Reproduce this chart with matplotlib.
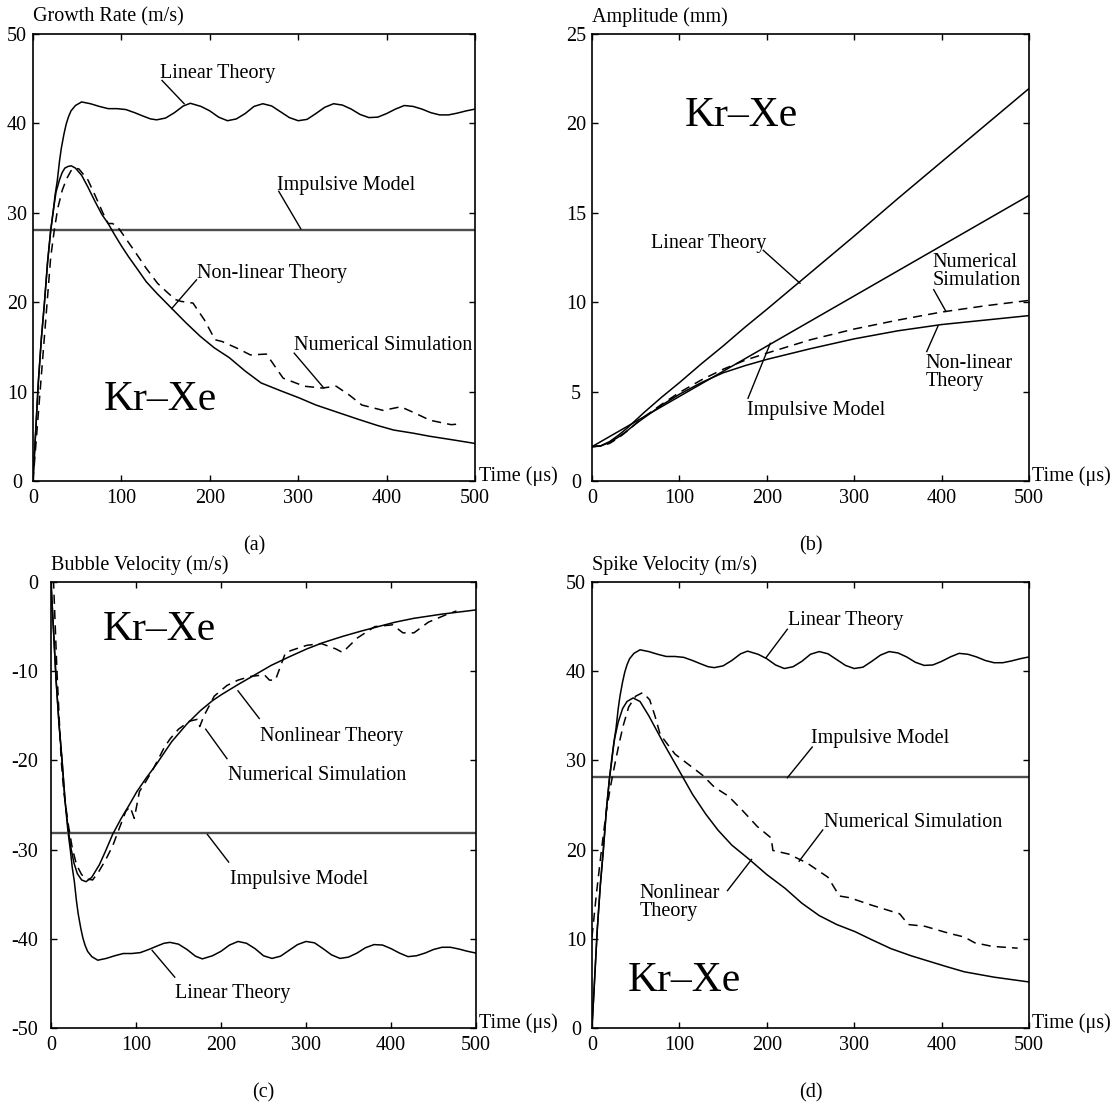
import numpy as np
import matplotlib.pyplot as plt

plt.rcParams['font.family'] = ['Liberation Serif', 'DejaVu Serif']
plt.rcParams['font.size'] = 14.5
plt.rcParams['axes.unicode_minus'] = False

# ---- shared linear theory growth rate (m/s) ----
t_lin = [0, 3, 6, 9.5, 13, 16.5, 20, 22.7, 25, 27.5, 30, 32, 35, 37.5, 40, 43, 48, 55, 65, 75,
         85, 95, 105, 115, 125, 133, 140, 150, 160, 170, 178, 190, 200, 210, 220, 230, 240, 250,
         260, 270, 280, 290, 300, 310, 320, 330, 340, 350, 360, 370, 380, 390, 400, 410, 420,
         430, 440, 450, 460, 470, 480, 490, 500]
v_lin = [0, 5.5, 11, 16, 20, 24.5, 28, 30, 32, 33.6, 35.8, 37.2, 38.8, 39.9, 40.7, 41.4, 42.0,
         42.4, 42.2, 41.9, 41.65, 41.65, 41.55, 41.2, 40.8, 40.5, 40.4, 40.6, 41.2, 41.95, 42.25,
         41.9, 41.4, 40.7, 40.3, 40.5, 41.1, 41.9, 42.2, 41.95, 41.3, 40.65, 40.3, 40.45, 41.1,
         41.8, 42.2, 42.05, 41.6, 41.0, 40.65, 40.7, 41.1, 41.6, 42.0, 41.9, 41.6, 41.2, 40.95,
         40.95, 41.15, 41.4, 41.6]
impulsive_rate = 28.1

# ---- (a) growth rate ----
t_nl_a = [0, 3, 6, 9.5, 13, 16.5, 20, 22.6, 26, 30, 33, 36, 40, 43.4, 48, 55, 62, 70, 78, 85,
          92, 100, 108, 118.8, 128, 140, 157, 173, 189, 205, 222, 240, 258, 280, 301, 320, 341,
          368, 390, 408, 430, 449, 475, 500]
v_nl_a = [0, 5.5, 11, 16, 20, 24.5, 28, 30, 32.3, 33.7, 34.5, 35.0, 35.2, 35.25, 35.0, 34.2,
          32.9, 31.3, 29.8, 28.8, 27.6, 26.3, 25.1, 23.6, 22.3, 21.0, 19.3, 17.7, 16.2, 14.9,
          13.8, 12.3, 10.97, 10.1, 9.3, 8.5, 7.8, 6.9, 6.2, 5.7, 5.35, 5.0, 4.6, 4.2]
t_num_a = [0, 4, 8, 12, 16, 20, 24, 28, 33, 38, 43, 47, 52, 62, 70, 79, 85, 90, 96, 103.7, 115,
           128, 141, 153, 161, 167, 181, 194, 206, 214, 232, 246, 264, 283, 307, 327, 343, 358,
           372, 396, 416, 432, 449, 473, 485]
v_num_a = [0, 5, 10, 15, 20, 25, 28, 30.5, 32.5, 33.8, 34.7, 35.0, 34.9, 33.7, 32.0, 30.0,
           28.8, 28.8, 28.4, 27.3, 25.7, 23.8, 22.1, 21.0, 20.3, 20.1, 19.9, 18.0, 15.8, 15.6,
           14.8, 14.1, 14.2, 11.5, 10.6, 10.4, 10.6, 9.6, 8.5, 7.9, 8.3, 7.6, 6.8, 6.3, 6.4]

# ---- (b) amplitude (mm) ----
t_b = [0, 10, 20, 30, 40, 50, 60, 80, 100, 125, 150, 175, 200, 250, 300, 350, 400, 450, 500]
amp_lin = [1.92, 1.97, 2.2, 2.55, 2.95, 3.4, 3.85, 4.7, 5.5, 6.55, 7.55, 8.6, 9.6, 11.65, 13.7,
           15.8, 17.85, 19.9, 21.95]
amp_nl = [1.92, 1.96, 2.15, 2.45, 2.8, 3.2, 3.55, 4.25, 4.85, 5.5, 6.05, 6.45, 6.8, 7.4, 7.95,
          8.4, 8.75, 9.0, 9.25]
amp_num = [1.92, 1.95, 2.1, 2.4, 2.78, 3.2, 3.6, 4.3, 4.95, 5.65, 6.25, 6.75, 7.15, 7.9, 8.5,
           9.0, 9.45, 9.8, 10.1]
t_imp_b = [0, 100, 200, 300, 400, 500]
amp_imp = [1.92, 4.73, 7.54, 10.35, 13.16, 15.97]

# ---- (c) bubble velocity (m/s) ----
t_nl_c = [0, 3, 6, 9.5, 13, 16.5, 20, 23, 27, 31, 36, 41.2, 48, 56.9, 64, 72.5, 82, 92, 101,
          111.8, 123.5, 142, 160, 176, 190, 201, 220, 240, 259, 280, 301, 320, 343, 365, 385,
          405, 427, 460, 500]
v_nl_c = [0, -5.5, -11, -16, -20, -24.5, -27.5, -29.6, -31.5, -32.7, -33.4, -33.6, -33.1,
          -31.7, -30.2, -28.3, -26.6, -25.0, -23.5, -22.0, -20.5, -17.9, -15.9, -14.4, -13.3,
          -12.6, -11.5, -10.4, -9.35, -8.4, -7.5, -6.8, -6.1, -5.5, -5.0, -4.5, -4.07, -3.6,
          -3.13]
t_num_c = [0, 3, 5, 7, 9.5, 12, 15, 20, 25, 30, 36, 42, 49, 56, 64, 72.5, 80, 88, 93, 98, 104,
           112, 120, 133, 140, 150, 163, 172, 175, 180, 192, 207, 220, 234, 251, 257, 264, 276,
           288, 301, 318, 335, 343, 360, 381, 402, 414, 427, 444, 464, 477]
v_num_c = [0, 0, -5, -10, -15, -20, -23.5, -27, -29.8, -31.7, -32.8, -33.3, -33.4, -32.5,
           -31.2, -29.6, -27.7, -25.7, -25.2, -26.5, -23.5, -22.3, -21.0, -18.6, -17.6, -16.5,
           -15.6, -15.4, -16.2, -15.0, -12.8, -11.6, -11.0, -10.6, -10.4, -11.0, -11.0, -7.9,
           -7.5, -7.1, -6.9, -7.5, -7.9, -6.3, -5.0, -4.8, -5.7, -5.7, -4.5, -3.7, -3.25]

# ---- (d) spike velocity (m/s) ----
t_nl_d = [0, 3, 6, 9.5, 13, 16.5, 20, 23, 26, 30, 35, 40, 47, 55, 65, 82, 100, 115, 130, 144,
          160, 180, 200, 221, 240, 260, 280, 301, 320, 342, 365, 385, 405, 426, 460, 500]
v_nl_d = [0, 5.5, 11, 16, 20, 24.5, 28, 30.5, 32.5, 34.3, 35.8, 36.6, 37.0, 36.6, 35.0, 31.9,
          28.8, 26.2, 24.0, 22.2, 20.5, 18.9, 17.2, 15.65, 14.0, 12.6, 11.6, 10.8, 9.9, 8.9,
          8.1, 7.5, 6.9, 6.3, 5.7, 5.16]
t_num_d = [0, 5, 11, 16, 21, 26, 31, 36, 42, 50, 58, 66, 72, 78, 95, 111, 127, 140, 156, 172,
           189, 205, 207, 225, 246, 270, 283, 295, 319, 352, 362, 381, 409, 426, 438, 458, 487]
v_num_d = [10.2, 15, 20.1, 24, 27, 29.5, 31.9, 34, 36, 37.2, 37.6, 36.8, 35, 32.9, 30.7, 29.5,
           28.3, 27.0, 26.0, 24.4, 22.6, 21.3, 19.9, 19.5, 18.5, 16.9, 14.8, 14.6, 13.8, 12.8,
           11.6, 11.4, 10.6, 10.2, 9.55, 9.15, 8.95]

W, H = 1117, 1108
fig = plt.figure(figsize=(W / 100, H / 100), dpi=100)


def box(x0, y0, x1, y1):
    return [x0 / W, 1 - y1 / H, (x1 - x0) / W, (y1 - y0) / H]


def style(ax, ylim, yticks, ylabel, tag, ha='center', ypad=11.5):
    ax.set_xlim(0, 500)
    ax.set_ylim(*ylim)
    ax.set_xticks(range(0, 501, 100))
    ax.set_yticks(yticks)
    ax.tick_params(direction='in', top=True, right=True, length=4, width=1)
    ax.tick_params(axis='x', pad=6)
    ax.tick_params(axis='y', pad=ypad)
    plt.setp(ax.get_yticklabels(), ha=ha)
    for s in ax.spines.values():
        s.set_linewidth(1.2)
    ax.text(0, 1.038, ylabel, transform=ax.transAxes, ha='left', va='center')
    ax.text(1.008, 0.012, 'Time (\u03bcs)', transform=ax.transAxes, ha='left', va='center')
    ax.text(0.5, -0.146, tag, transform=ax.transAxes, ha='center', va='center')


def note(ax, text, tx, ty, x1, y1, x2, y2):
    ax.plot([x1, x2], [y1, y2], color='black', lw=1.0)
    ax.text(tx, ty, text, ha='left', va='center', linespacing=0.95)


solid = dict(color='black', lw=1.1)
dashed = dict(color='black', lw=1.1, dashes=(6, 4))
imp = dict(color='0.3', lw=1.7)
big = 30

# (a)
ax = fig.add_axes(box(33, 34, 475, 481))
ax.plot(t_lin, v_lin, **solid)
ax.axhline(impulsive_rate, **imp)
ax.plot(t_nl_a, v_nl_a, **solid)
ax.plot(t_num_a, v_num_a, **dashed)
style(ax, (0, 50), range(0, 51, 10), 'Growth Rate (m/s)', '(a)')
note(ax, 'Linear Theory', 144, 45.6, 146, 44.8, 171, 42.2)
note(ax, 'Impulsive Model', 276, 33.1, 278, 32.4, 303, 28.2)
note(ax, 'Non-linear Theory', 185, 23.2, 185, 22.5, 157, 19.3)
note(ax, 'Numerical Simulation', 295, 15.2, 295.5, 14.3, 329, 10.4)
ax.text(80, 9.1, 'Kr\u2013Xe', fontsize=big, ha='left', va='center')

# (b)
ax = fig.add_axes(box(592, 34, 1029, 481))
ax.plot(t_b, amp_lin, **solid)
ax.plot(t_imp_b, amp_imp, **solid)
ax.plot(t_b, amp_nl, **solid)
ax.plot(t_b, amp_num, **dashed)
style(ax, (0, 25), range(0, 26, 5), 'Amplitude (mm)', '(b)')
note(ax, 'Linear Theory', 67, 13.3, 196, 12.9, 238, 11.06)
note(ax, 'Numerical\nSimulation', 390, 11.7, 391, 10.7, 405, 9.48)
note(ax, 'Non-linear\nTheory', 381.5, 6.05, 383, 7.24, 396, 8.68)
note(ax, 'Impulsive Model', 177, 3.97, 178.5, 4.63, 204, 7.7)
ax.text(106, 20.4, 'Kr\u2013Xe', fontsize=big, ha='left', va='center')

# (c)
ax = fig.add_axes(box(51, 582, 476, 1028))
ax.plot(t_lin, [-v for v in v_lin], **solid)
ax.axhline(-impulsive_rate, **imp)
ax.plot(t_nl_c, v_nl_c, **solid)
ax.plot(t_num_c, v_num_c, **dashed)
style(ax, (-50, 0), range(-50, 1, 10), 'Bubble Velocity (m/s)', '(c)', ha='right', ypad=9)
note(ax, 'Nonlinear Theory', 246, -17.3, 245, -15.3, 220, -12.2)
note(ax, 'Numerical Simulation', 208, -21.7, 207, -19.8, 182, -16.5)
note(ax, 'Impulsive Model', 211, -33.3, 209, -31.4, 184, -28.3)
note(ax, 'Linear Theory', 146, -46.1, 145.6, -44.3, 119, -41.3)
ax.text(60.7, -5.3, 'Kr\u2013Xe', fontsize=big, ha='left', va='center')

# (d)
ax = fig.add_axes(box(592, 582, 1029, 1028))
ax.plot(t_lin, v_lin, **solid)
ax.axhline(impulsive_rate, **imp)
ax.plot(t_nl_d, v_nl_d, **solid)
ax.plot(t_num_d, v_num_d, **dashed)
style(ax, (0, 50), range(0, 51, 10), 'Spike Velocity (m/s)', '(d)')
note(ax, 'Linear Theory', 224.7, 45.65, 223.5, 44.7, 199, 41.5)
note(ax, 'Impulsive Model', 250.8, 32.4, 252, 31.5, 223.5, 28.05)
note(ax, 'Numerical Simulation', 265.5, 23.0, 264, 22.2, 237, 18.7)
note(ax, 'Nonlinear\nTheory', 54.7, 14.05, 155, 15.4, 182.6, 18.9)
ax.text(41, 5.3, 'Kr\u2013Xe', fontsize=big, ha='left', va='center')

fig.savefig('out.png', dpi=100)
